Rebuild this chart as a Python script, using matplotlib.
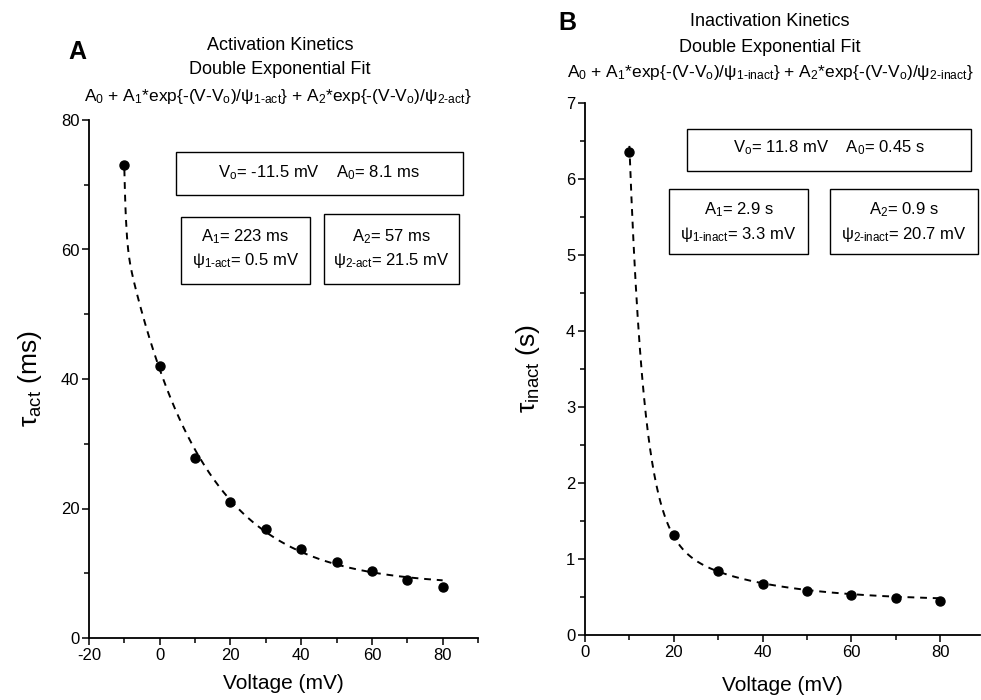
import matplotlib
matplotlib.use("Agg")
import matplotlib.pyplot as plt
import numpy as np
from matplotlib.patches import Rectangle
from matplotlib.ticker import MultipleLocator

plt.rcParams["font.family"] = ["Liberation Sans", "DejaVu Sans"]
plt.rcParams["mathtext.fontset"] = "custom"
plt.rcParams["mathtext.rm"] = "Liberation Sans"
plt.rcParams["mathtext.it"] = "Liberation Sans:italic"
plt.rcParams["mathtext.bf"] = "Liberation Sans:bold"
plt.rcParams["axes.unicode_minus"] = False

# Measured time constants
v_act = [-10, 0, 10, 20, 30, 40, 50, 60, 70, 80]
tau_act = [73.0, 42.0, 27.8, 21.0, 16.8, 13.7, 11.8, 10.3, 9.0, 7.9]

v_inact = [10, 20, 30, 40, 50, 60, 70, 80]
tau_inact = [6.35, 1.32, 0.84, 0.67, 0.58, 0.53, 0.49, 0.45]

# Double exponential fit parameters: V0, A0, A1, psi1, A2, psi2
fit_act = dict(v0=-11.5, a0=8.1, a1=223, psi1=0.5, a2=57, psi2=21.5)
fit_inact = dict(v0=11.8, a0=0.45, a1=2.9, psi1=3.3, a2=0.9, psi2=20.7)

W, H = 981, 700

SUB_O = r"$_{\mathregular{o}}$"
BOX_FS = 12
TITLE_FS = 13
FORMULA_FS = 12.5


def psi(n, kind):
    return r"ψ$_{\mathregular{%d}\text{-}\mathregular{%s}}$" % (n, kind)


def formula(kind):
    return (r"A$_{\mathregular{0}}$ + A$_{\mathregular{1}}$*exp{-(V-V" + SUB_O + ")/"
            + psi(1, kind) + r"} + A$_{\mathregular{2}}$*exp{-(V-V" + SUB_O + ")/"
            + psi(2, kind) + "}")


def double_exp(v, p):
    return (p["a0"] + p["a1"] * np.exp(-(v - p["v0"]) / p["psi1"])
            + p["a2"] * np.exp(-(v - p["v0"]) / p["psi2"]))


def px_rect(x0, y0, x1, y1):
    # pixel box -> figure fraction [left, bottom, width, height]
    return [x0 / W, 1 - y1 / H, (x1 - x0) / W, (y1 - y0) / H]


def fig_text(fig, x, y, s, **kw):
    fig.text(x / W, 1 - y / H, s, ha="center", va="center", **kw)


def fig_box(fig, x0, y0, x1, y1, lines, ys):
    l, b, w, h = px_rect(x0, y0, x1, y1)
    fig.add_artist(Rectangle((l, b), w, h, transform=fig.transFigure,
                             fill=False, edgecolor="black", linewidth=1.0))
    for txt, y in zip(lines, ys):
        fig_text(fig, (x0 + x1) / 2, y, txt, fontsize=BOX_FS)


def style_axes(ax):
    for s in ("top", "right"):
        ax.spines[s].set_visible(False)
    for s in ("left", "bottom"):
        ax.spines[s].set_linewidth(1.3)
    ax.tick_params(which="major", direction="out", length=5, width=1.1,
                   labelsize=12, pad=2)
    ax.tick_params(which="minor", direction="out", length=3.5, width=1.1)


fig = plt.figure(figsize=(W / 100, H / 100), dpi=100)

# ---- Panel A: activation
axA = fig.add_axes(px_rect(89, 120, 478, 638))
style_axes(axA)
vv = np.linspace(-10, 80, 600)
axA.plot(vv, double_exp(vv, fit_act), color="black", linestyle=(0, (3.5, 3)),
         linewidth=1.4)
axA.plot(v_act, tau_act, "o", color="black", markersize=6.5)
axA.set_xlim(-20, 90)
axA.set_ylim(0, 80)
axA.xaxis.set_major_locator(MultipleLocator(20))
axA.xaxis.set_minor_locator(MultipleLocator(10))
axA.yaxis.set_major_locator(MultipleLocator(20))
axA.yaxis.set_minor_locator(MultipleLocator(10))
axA.set_xlabel("Voltage (mV)", fontsize=15, labelpad=8)
axA.set_ylabel(r"τ$_{\mathregular{act}}$ (ms)", fontsize=19, labelpad=12)

fig_text(fig, 77, 52, "A", fontsize=18, fontweight="bold")
fig_text(fig, 280, 45, "Activation Kinetics", fontsize=TITLE_FS)
fig_text(fig, 280, 70, "Double Exponential Fit", fontsize=TITLE_FS)
fig_text(fig, 278, 97, formula("act"), fontsize=FORMULA_FS)

fig_box(fig, 176, 152, 463, 195,
        [r"V" + SUB_O + r"= %g mV    A$_{\mathregular{0}}$= %g ms"
         % (fit_act["v0"], fit_act["a0"])], [173])
fig_box(fig, 181, 217, 310, 284,
        [r"A$_{\mathregular{1}}$= %g ms" % fit_act["a1"],
         psi(1, "act") + "= %g mV" % fit_act["psi1"]],
        [237, 260])
fig_box(fig, 324, 214, 459, 284,
        [r"A$_{\mathregular{2}}$= %g ms" % fit_act["a2"],
         psi(2, "act") + "= %g mV" % fit_act["psi2"]],
        [237, 260])

# ---- Panel B: inactivation
axB = fig.add_axes(px_rect(585, 103, 980, 635))
style_axes(axB)
vv = np.linspace(10, 80, 600)
axB.plot(vv, double_exp(vv, fit_inact), color="black", linestyle=(0, (3.5, 3)),
         linewidth=1.4)
axB.plot(v_inact, tau_inact, "o", color="black", markersize=6.5)
axB.set_xlim(0, 89)
axB.set_ylim(0, 7)
axB.xaxis.set_major_locator(MultipleLocator(20))
axB.xaxis.set_minor_locator(MultipleLocator(10))
axB.yaxis.set_major_locator(MultipleLocator(1))
axB.yaxis.set_minor_locator(MultipleLocator(0.5))
axB.set_xlabel("Voltage (mV)", fontsize=15, labelpad=12)
axB.set_ylabel(r"τ$_{\mathregular{inact}}$ (s)", fontsize=19, labelpad=17)

fig_text(fig, 567, 23, "B", fontsize=18, fontweight="bold")
fig_text(fig, 770, 22, "Inactivation Kinetics", fontsize=TITLE_FS)
fig_text(fig, 770, 48, "Double Exponential Fit", fontsize=TITLE_FS)
fig_text(fig, 770, 73, formula("inact"), fontsize=FORMULA_FS)

fig_box(fig, 687, 129, 971, 171,
        [r"V" + SUB_O + r"= %g mV    A$_{\mathregular{0}}$= %g s"
         % (fit_inact["v0"], fit_inact["a0"])], [148])
fig_box(fig, 669, 189, 808, 254,
        [r"A$_{\mathregular{1}}$= %g s" % fit_inact["a1"],
         psi(1, "inact") + "= %g mV" % fit_inact["psi1"]],
        [210, 235])
fig_box(fig, 830, 189, 978, 254,
        [r"A$_{\mathregular{2}}$= %g s" % fit_inact["a2"],
         psi(2, "inact") + "= %g mV" % fit_inact["psi2"]],
        [210, 235])

fig.savefig("out.png", dpi=100)
